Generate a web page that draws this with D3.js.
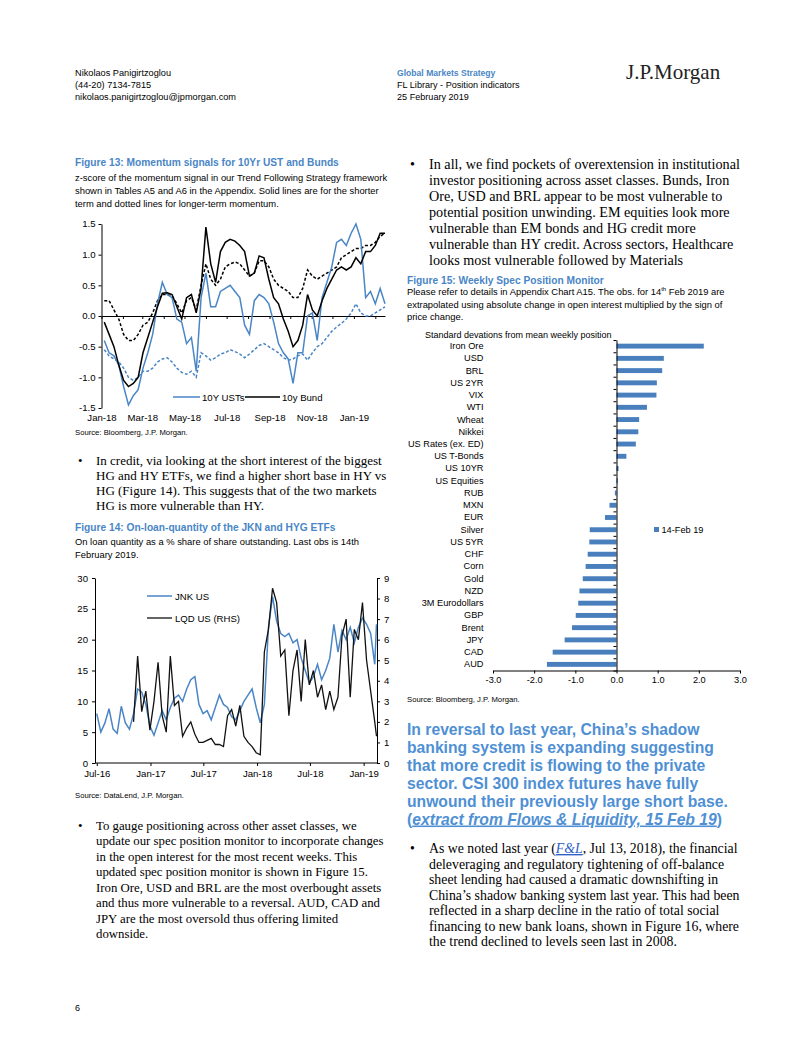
<!DOCTYPE html>
<html><head><meta charset="utf-8">
<script src="https://cdn.jsdelivr.net/npm/d3@7"></script>
<style>
body{margin:0;background:#fff}
svg{display:block}
.sans{font-family:"Liberation Sans",Arial,sans-serif}
.serif{font-family:"Liberation Serif","Times New Roman",serif}
</style>
</head><body>
<svg id="page" width="802" height="1037"></svg>
<script>
// ---------------- DATA ----------------
// Figure 13: weekly (Fridays) from 5 Jan 2018 to 15 Feb 2019
const f13Start = "2018-01-05", f13End = "2019-02-16";
const f13UstShort = [-0.4,-0.6,-0.65,-0.8,-1.15,-1.45,-1.3,-1.2,-0.85,-0.6,-0.3,0.2,0.55,0.35,0.3,-0.05,-0.1,-0.45,-0.35,-0.9,0.3,0.7,0.15,0.15,0.4,0.45,0.5,0.4,0.3,-0.15,-0.3,0.25,0.35,0.3,0.2,-0.1,-0.45,-0.6,-0.7,-1.1,-0.6,-0.6,0.0,0.05,-0.4,0.3,0.55,0.8,1.2,1.25,1.15,1.35,1.5,1.25,0.3,0.4,0.2,0.45,0.2];
const f13UstLong = [-0.55,-0.65,-0.7,-0.75,-0.85,-1.0,-1.05,-1.0,-0.9,-0.9,-0.85,-0.75,-0.7,-0.68,-0.75,-0.85,-0.92,-0.95,-0.9,-1.0,-0.6,-0.65,-0.72,-0.68,-0.62,-0.6,-0.55,-0.58,-0.62,-0.68,-0.62,-0.55,-0.48,-0.45,-0.5,-0.55,-0.6,-0.68,-0.72,-0.7,-0.65,-0.62,-0.72,-0.6,-0.5,-0.45,-0.35,-0.25,-0.18,-0.12,-0.05,0.05,0.2,0.05,0.0,0.0,0.05,0.1,0.15];
const f13BundShort = [-0.1,-0.3,-0.5,-0.8,-1.05,-1.15,-1.1,-1.0,-0.6,-0.35,-0.1,0.15,0.37,0.38,0.35,0.15,-0.05,0.3,0.35,0.05,0.45,1.45,0.85,0.55,1.05,1.2,1.25,1.22,1.15,1.05,0.65,0.7,0.98,0.95,0.6,0.3,0.2,-0.05,-0.25,-0.5,-0.4,-0.15,0.35,0.1,0.0,0.25,0.45,0.6,0.75,0.8,0.75,0.8,0.95,0.85,1.05,1.05,1.15,1.35,1.35];
const f13BundLong = [0.25,0.25,0.1,-0.05,-0.3,-0.4,-0.4,-0.3,-0.15,-0.1,0.05,0.25,0.35,0.35,0.33,0.2,0.05,0.25,0.3,0.1,0.5,0.85,0.6,0.5,0.6,0.8,0.85,0.88,0.85,0.75,0.65,0.7,0.9,0.9,0.8,0.6,0.5,0.45,0.4,0.3,0.3,0.45,0.75,0.65,0.6,0.65,0.7,0.75,0.8,0.95,1.0,1.05,1.1,1.1,1.15,1.15,1.2,1.3,1.35];
const f13YTicks = [-1.5,-1.0,-0.5,0.0,0.5,1.0,1.5];
const f13XTicks = ["2018-01-01","2018-03-01","2018-05-01","2018-07-01","2018-09-01","2018-11-01","2019-01-01"];

// Figure 14: fortnightly from 1 Jul 2016, last obs 14 Feb 2019
const f14Start = "2016-07-01", f14Last = "2019-02-14";
const f14Jnk = [8,5,6.5,8.8,5.5,4.8,9.2,6.5,5.5,8,12,11.5,9.5,6,4.5,6.5,8.5,7,9,10.5,11,10,12,13.5,14,9.5,8,8.5,7,9,11,9.5,9,7.5,7,8.5,10,11,12,9,6.5,9.5,22,27,23,21,20.5,21,19.5,20,17,15,13,14,16,13.5,15,17,22.5,18,21.5,20,22,19.5,22,23.5,22.5,21,16,22.5];
const f14Lqd = [null,null,null,null,null,null,null,null,null,2.0,5.2,2.5,3.5,1.6,3.0,4.9,2.3,1.5,5.2,2.8,3.0,1.3,1.7,2.0,1.4,1.0,1.0,1.1,1.2,0.9,0.9,0.8,2.3,2.6,1.8,2.8,1.3,1.0,0.8,0.5,0.4,5.4,6.5,8.5,7.8,5.2,5.5,2.3,4.5,5.5,3.0,6.0,3.8,4.5,3.2,3.8,2.6,3.5,2.6,3.2,6.2,7.0,3.2,6.5,6.0,7.8,5.0,3.5,2.0,1.3];
const f14LeftTicks = [0,5,10,15,20,25,30];
const f14RightTicks = [0,1,2,3,4,5,6,7,8,9];
const f14XTicks = ["2016-07-01","2017-01-01","2017-07-01","2018-01-01","2018-07-01","2019-01-01"];

// Figure 15
const f15Cats = ["Iron Ore","USD","BRL","US 2YR","VIX","WTI","Wheat","Nikkei","US Rates (ex. ED)","US T-Bonds","US 10YR","US Equities","RUB","MXN","EUR","Silver","US 5YR","CHF","Corn","Gold","NZD","3M Eurodollars","GBP","Brent","JPY","CAD","AUD"];
const f15Vals = [2.12,1.15,1.11,0.98,0.97,0.74,0.55,0.53,0.47,0.24,0.05,0.03,-0.04,-0.17,-0.28,-0.65,-0.66,-0.70,-0.75,-0.82,-0.90,-0.93,-0.99,-1.08,-1.26,-1.55,-1.69];
const f15XTicks = [-3,-2,-1,0,1,2,3];

// ---------------- STYLE ----------------
const BLUE = "#4a86c6", TITLE = "#4a86c6", BAR = "#4a7fbe", HEAD = "#4f90d4";
const TITLE_FS = 10.2, SUB_FS = 9.4, SRC_FS = 7.7, TICK_FS = 9.6;
const svg = d3.select("#page");

function textLines(arr, x, y0, lh, size, cls, opts={}) {
  const g = svg.append("g");
  arr.forEach((t, i) => {
    g.append("text").attr("class", cls).attr("x", x).attr("y", y0 + i*lh)
      .attr("font-size", size).attr("fill", opts.fill || "#000")
      .attr("font-weight", opts.weight || "normal").text(t);
  });
  return g;
}
function bullet(x, y, fs) {
  svg.append("text").attr("class","serif").attr("x",x).attr("y",y).attr("font-size",fs||13).text("•");
}
function styleAxis(a, fs) {
  a.selectAll("text").attr("font-size",fs).attr("font-family","Liberation Sans, Arial").attr("fill","#000");
  a.selectAll("path,line").attr("stroke","#000");
}

// ---------------- HEADER ----------------
textLines(["Nikolaos Panigirtzoglou","(44-20) 7134-7815","nikolaos.panigirtzoglou@jpmorgan.com"], 75, 75.5, 12, 9.2, "sans");
svg.append("text").attr("class","sans").attr("x",397).attr("y",75.5).attr("font-size",8.6)
  .attr("font-weight","bold").attr("fill",TITLE).text("Global Markets Strategy");
textLines(["FL Library - Position indicators","25 February 2019"], 397, 87.5, 12, 9.1, "sans");
svg.append("text").attr("class","serif").attr("x",626).attr("y",78.5).attr("font-size",21)
  .attr("fill","#222").text("J.P.Morgan");
svg.append("text").attr("class","sans").attr("x",75).attr("y",1011).attr("font-size",9).text("6");

// ---------------- FIGURE 13 ----------------
svg.append("text").attr("class","sans").attr("x",75).attr("y",165.5).attr("font-size",TITLE_FS)
  .attr("font-weight","bold").attr("fill",TITLE).text("Figure 13: Momentum signals for 10Yr UST and Bunds");
textLines(["z-score of the momentum signal in our Trend Following Strategy framework",
  "shown in Tables A5 and A6 in the Appendix. Solid lines are for the shorter",
  "term and dotted lines for longer-term momentum."], 75, 180.5, 13, SUB_FS, "sans");
svg.append("text").attr("class","sans").attr("x",75).attr("y",435).attr("font-size",SRC_FS).text("Source: Bloomberg, J.P. Morgan.");
{
  const dates = d3.utcFriday.range(new Date(f13Start), new Date(f13End));
  const x = d3.scaleUtc().domain([new Date("2018-01-01"), new Date("2019-02-15")]).range([101.5, 385]);
  const y = d3.scaleLinear().domain([-1.5, 1.5]).range([408, 224]);
  const g = svg.append("g").attr("class","sans");
  const ya = g.append("g").attr("transform","translate(101.5,0)")
    .call(d3.axisLeft(y).tickValues(f13YTicks).tickFormat(d=>d.toFixed(1)).tickSize(3).tickSizeOuter(0).tickPadding(3));
  styleAxis(ya, TICK_FS);
  ya.selectAll("text").attr("dy","0.28em");
  const xa = g.append("g").attr("transform",`translate(0,${y(0)})`)
    .call(d3.axisBottom(x).ticks(d3.utcMonth.every(1)).tickFormat("").tickSize(3).tickSizeOuter(0));
  styleAxis(xa, TICK_FS);
  xa.select("path").attr("stroke-width",1.1);
  const xl = g.append("g").attr("transform","translate(0,408)")
    .call(d3.axisBottom(x).tickValues(f13XTicks.map(d=>new Date(d))).tickFormat(d3.utcFormat("%b-%y")).tickSize(0).tickPadding(6.5));
  xl.select("path").remove();
  styleAxis(xl, TICK_FS);
  const line = d3.line().x((d,i)=>x(dates[i])).y(d=>y(d));
  const series = [
    {v:f13UstLong, c:BLUE, dash:"3,2"},
    {v:f13BundLong, c:"#000", dash:"3,2"},
    {v:f13UstShort, c:BLUE, dash:null},
    {v:f13BundShort, c:"#000", dash:null}
  ];
  series.forEach(s => g.append("path").datum(s.v).attr("d",line).attr("fill","none")
    .attr("stroke",s.c).attr("stroke-width",1.5).attr("stroke-dasharray",s.dash));
  g.append("line").attr("x1",173).attr("x2",200).attr("y1",397).attr("y2",397).attr("stroke",BLUE).attr("stroke-width",1.5);
  g.append("text").attr("x",202).attr("y",400.5).attr("font-size",TICK_FS).text("10Y USTs");
  g.append("line").attr("x1",245).attr("x2",280).attr("y1",397).attr("y2",397).attr("stroke","#000").attr("stroke-width",1.5);
  g.append("text").attr("x",282).attr("y",400.5).attr("font-size",TICK_FS).text("10y Bund");
}

// ---------------- LEFT BODY TEXT ----------------
bullet(78, 465, 12.8);
textLines(["In credit, via looking at the short interest of the biggest",
  "HG and HY ETFs, we find a higher short base in HY vs",
  "HG (Figure 14). This suggests that of the two markets",
  "HG is more vulnerable than HY."], 96, 465, 15, 13, "serif");

// ---------------- FIGURE 14 ----------------
svg.append("text").attr("class","sans").attr("x",75).attr("y",530.5).attr("font-size",TITLE_FS)
  .attr("font-weight","bold").attr("fill",TITLE).text("Figure 14: On-loan-quantity of the JKN and HYG ETFs");
textLines(["On loan quantity as a % share of share outstanding. Last obs is 14th","February 2019."], 75, 545, 13, SUB_FS, "sans");
svg.append("text").attr("class","sans").attr("x",75).attr("y",798).attr("font-size",SRC_FS).text("Source: DataLend, J.P. Morgan.");
{
  const dates = d3.utcDay.range(new Date(f14Start), new Date(f14Last), 14).concat([new Date(f14Last)]);
  const x = d3.scaleUtc().domain([new Date("2016-06-25"), new Date("2019-02-14")]).range([95, 376.5]);
  const yL = d3.scaleLinear().domain([0, 30]).range([763, 578]);
  const yR = d3.scaleLinear().domain([0, 9]).range([763, 578]);
  const g = svg.append("g").attr("class","sans");
  const la = g.append("g").attr("transform","translate(95,0)")
    .call(d3.axisLeft(yL).tickValues(f14LeftTicks).tickSize(3).tickSizeOuter(0).tickPadding(4));
  const ra = g.append("g").attr("transform","translate(377,0)")
    .call(d3.axisRight(yR).tickValues(f14RightTicks).tickSize(3).tickSizeOuter(0).tickPadding(4));
  const ba = g.append("g").attr("transform","translate(0,763)")
    .call(d3.axisBottom(x).tickValues(f14XTicks.map(d=>new Date(d))).tickFormat(d3.utcFormat("%b-%y")).tickSize(3).tickSizeOuter(0).tickPadding(4));
  [la,ra,ba].forEach(a => styleAxis(a, TICK_FS));
  ba.select("path").attr("d","M95,0H377");
  g.append("path").datum(f14Jnk).attr("fill","none").attr("stroke",BLUE).attr("stroke-width",1.5)
    .attr("d", d3.line().x((d,i)=>x(dates[i])).y(d=>yL(d)));
  g.append("path").datum(f14Lqd).attr("fill","none").attr("stroke","#111").attr("stroke-width",1.3)
    .attr("d", d3.line().defined(d=>d!=null).x((d,i)=>x(dates[i])).y(d=>yR(d)));
  g.append("line").attr("x1",147).attr("x2",172).attr("y1",596).attr("y2",596).attr("stroke",BLUE).attr("stroke-width",1.5);
  g.append("text").attr("x",175).attr("y",599.5).attr("font-size",TICK_FS).text("JNK US");
  g.append("line").attr("x1",147).attr("x2",172).attr("y1",618).attr("y2",618).attr("stroke","#111").attr("stroke-width",1.3);
  g.append("text").attr("x",175).attr("y",621.5).attr("font-size",TICK_FS).text("LQD US (RHS)");
}

bullet(78, 830, 12.8);
textLines(["To gauge positioning across other asset classes, we",
  "update our spec position monitor to incorporate changes",
  "in the open interest for the most recent weeks. This",
  "updated spec position monitor is shown in Figure 15.",
  "Iron Ore, USD and BRL are the most overbought assets",
  "and thus more vulnerable to a reversal. AUD, CAD and",
  "JPY are the most oversold thus offering limited",
  "downside."], 96, 830, 15.45, 12.8, "serif");

// ---------------- RIGHT COLUMN ----------------
bullet(410, 169, 14);
textLines(["In all, we find pockets of overextension in institutional",
  "investor positioning across asset classes. Bunds, Iron",
  "Ore, USD and BRL appear to be most vulnerable to",
  "potential position unwinding. EM equities look more",
  "vulnerable than EM bonds and HG credit more",
  "vulnerable than HY credit. Across sectors, Healthcare",
  "looks most vulnerable followed by Materials"], 429, 169, 16, 14.2, "serif");

// ---------------- FIGURE 15 ----------------
svg.append("text").attr("class","sans").attr("x",407).attr("y",283.5).attr("font-size",TITLE_FS)
  .attr("font-weight","bold").attr("fill",TITLE).text("Figure 15: Weekly Spec Position Monitor");
{
  const t = svg.append("text").attr("class","sans").attr("x",407).attr("y",294.5).attr("font-size",SUB_FS);
  t.append("tspan").text("Please refer to details in Appendix Chart A15. The obs. for 14");
  t.append("tspan").attr("font-size",6).attr("dy",-3.5).text("th");
  t.append("tspan").attr("dy",3.5).text(" Feb 2019 are");
  textLines(["extrapolated using absolute change in open interest multiplied by the sign of","price change."], 407, 307.5, 12.6, SUB_FS, "sans");
}
svg.append("text").attr("class","sans").attr("x",407).attr("y",702).attr("font-size",SRC_FS).text("Source: Bloomberg, J.P. Morgan.");
{
  const x = d3.scaleLinear().domain([-3, 3]).range([493, 740]);
  const y = d3.scaleBand().domain(f15Cats).range([340, 670.5]).paddingInner(0.6).paddingOuter(0.3);
  const g = svg.append("g").attr("class","sans");
  g.append("text").attr("x",425).attr("y",337.5).attr("font-size",9).text("Standard devations from mean weekly position");
  g.selectAll("rect.bar").data(f15Vals).join("rect").attr("class","bar")
    .attr("x", d=>x(Math.min(0,d))).attr("width", d=>Math.abs(x(d)-x(0)))
    .attr("y", (d,i)=>y(f15Cats[i])).attr("height", y.bandwidth()).attr("fill", BAR);
  const la = g.append("g").attr("transform","translate(483.5,0)")
    .call(d3.axisLeft(y).tickSize(0).tickPadding(0));
  la.select("path").remove();
  styleAxis(la, 9.2);
  const yEdge = d3.scaleLinear().domain([0, f15Cats.length]).range([340, 670.5]);
  const za = g.append("g").attr("transform",`translate(${x(0)},0)`)
    .call(d3.axisLeft(yEdge).tickValues(d3.range(f15Cats.length+1)).tickFormat("").tickSize(3).tickSizeOuter(0));
  styleAxis(za, 9);
  const ba = g.append("g").attr("transform","translate(0,670.5)")
    .call(d3.axisBottom(x).tickValues(f15XTicks).tickFormat(d=>d.toFixed(1)).tickSize(3).tickSizeOuter(0).tickPadding(3));
  styleAxis(ba, 9.2);
  g.append("rect").attr("x",654).attr("y",527).attr("width",5).attr("height",5).attr("fill",BAR);
  g.append("text").attr("x",661.5).attr("y",532.5).attr("font-size",9.2).text("14-Feb 19");
}

// ---------------- RIGHT HEADING ----------------
{
  const H = ["In reversal to last year, China’s shadow",
    "banking system is expanding suggesting",
    "that more credit is flowing to the private",
    "sector. CSI 300 index futures have fully",
    "unwound their previously large short base."];
  const HFS = 15.7;
  textLines(H, 407, 734.5, 18, HFS, "sans", {fill:HEAD, weight:"bold"});
  const t = svg.append("text").attr("class","sans").attr("x",407).attr("y",734.5+5*18)
    .attr("font-size",HFS).attr("font-weight","bold").attr("fill",HEAD);
  t.append("tspan").text("(");
  t.append("tspan").attr("font-style","italic").attr("text-decoration","underline").text("extract from Flows & Liquidity, 15 Feb 19");
  t.append("tspan").text(")");
}
bullet(410, 853, 13.6);
{
  const FS = 13.8;
  const t = svg.append("text").attr("class","serif").attr("x",429).attr("y",853).attr("font-size",FS);
  t.append("tspan").text("As we noted last year (");
  t.append("tspan").attr("font-style","italic").attr("text-decoration","underline").attr("fill","#2f5fc6").text("F&L");
  t.append("tspan").text(", Jul 13, 2018), the financial");
  textLines(["deleveraging and regulatory tightening of off-balance",
    "sheet lending had caused a dramatic downshifting in",
    "China’s shadow banking system last year. This had been",
    "reflected in a sharp decline in the ratio of total social",
    "financing to new bank loans, shown in Figure 16, where",
    "the trend declined to levels seen last in 2008."], 429, 853+15.5, 15.5, FS, "serif");
}
</script>
</body></html>
